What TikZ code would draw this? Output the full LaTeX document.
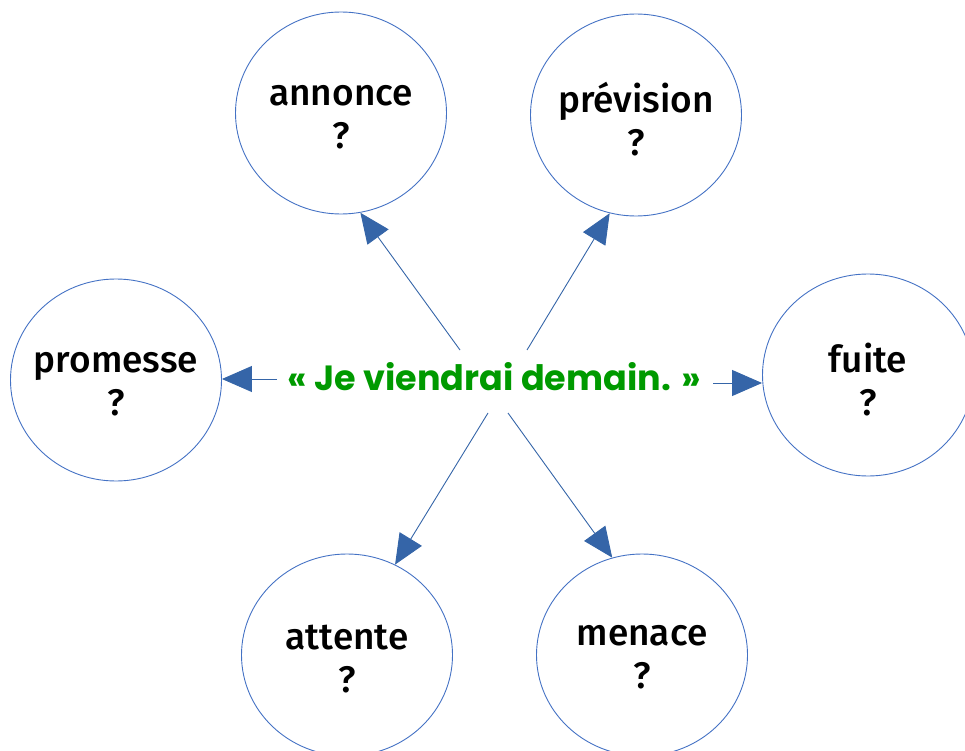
\documentclass[tikz,border=0pt]{standalone}
\usepackage{fontspec}
\setmainfont{Fira Sans}
\newfontfamily\labfont{Fira Sans Medium}
\newfontfamily\grnfont{Poppins}
\usetikzlibrary{shapes.geometric,arrows.meta}
\definecolor{ringblue}{HTML}{4472C4}
\definecolor{arrblue}{HTML}{3565A8}
\definecolor{quotegreen}{HTML}{009A00}
\tikzset{
  bubble/.style={ellipse,draw=ringblue,line width=0.9pt,minimum width=211pt,minimum height=202pt,inner sep=0pt},
  bubtext/.style={align=center,inner sep=0pt,font=\labfont\fontsize{37}{43}\selectfont},
  conn/.style={draw=arrblue,line width=0.9pt,-{Triangle[length=30pt,width=26pt]}},
}
\begin{document}
\begin{tikzpicture}[x=1pt,y=-1pt]
\useasboundingbox (0,0) rectangle (965,751);
\clip (0,0) rectangle (965,751);
\node[bubble] (annonce) at (341,113) {};
\node[bubble] (prevision) at (636,115) {};
\node[bubble] (promesse) at (116,380) {};
\node[bubble] (fuite) at (868,375) {};
\node[bubble] (attente) at (347,655) {};
\node[bubble] (menace) at (642,655) {};
\node[bubtext] (tannonce) at (341,117) {annonce\\?};
\node[bubtext] (tprevision) at (636,119) {prévision\\?};
\node[bubtext] (tpromesse) at (116,384) {promesse\\?};
\node[bubtext] (tfuite) at (868,380) {fuite\\?};
\node[bubtext] (tattente) at (347,659) {attente\\?};
\node[bubtext] (tmenace) at (642,657) {menace\\?};
\node[text=quotegreen,font=\grnfont\bfseries\fontsize{35}{43}\selectfont] (quote) at (494,377) {« Je viendrai demain. »};
\coordinate (sA) at (460,350);
\coordinate (sP) at (527,350);
\coordinate (sL) at (277,379);
\coordinate (sR) at (713,383);
\coordinate (sT) at (488,413);
\coordinate (sM) at (508,413);
\draw[conn] (sA) -- (annonce.-79);
\draw[conn] (sP) -- (prevision.-105);
\draw[conn] (sL) -- (sL -| promesse.east);
\draw[conn] (sR) -- (sR -| fuite.west);
\draw[conn] (sT) -- (attente.62);
\draw[conn] (sM) -- (menace.107);
\end{tikzpicture}
\end{document}
